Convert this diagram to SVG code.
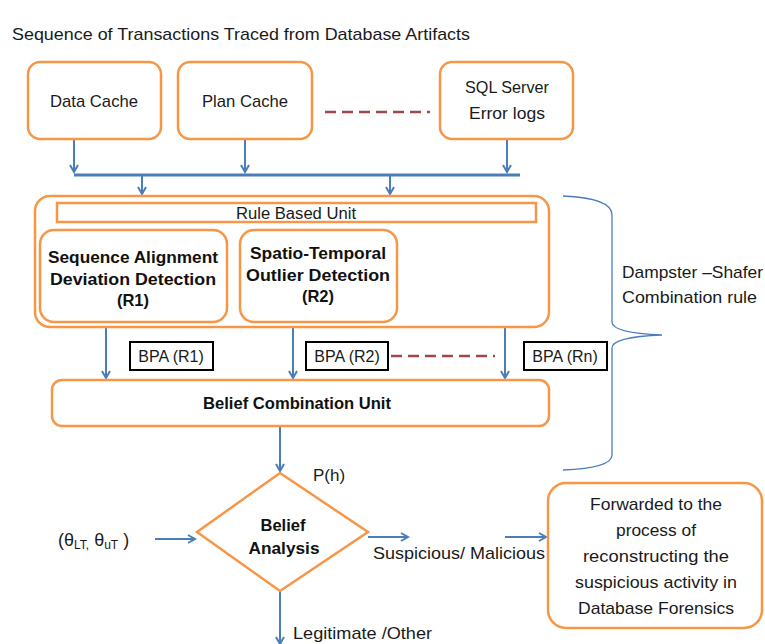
<svg xmlns="http://www.w3.org/2000/svg" width="765" height="644" viewBox="0 0 765 644">
<defs>
<marker id="ah" markerWidth="10" markerHeight="10" refX="8" refY="5" orient="auto" markerUnits="userSpaceOnUse">
<path d="M1,1 L8,5 L1,9" fill="none" stroke="#4A7EBB" stroke-width="2"/>
</marker>
<style>
.box{fill:#fff;stroke:#F79646;stroke-width:2.5}
.bpa{fill:#fff;stroke:#000;stroke-width:2}
.t{font-family:"Liberation Sans",Arial,sans-serif;font-size:16px;fill:#1a1a1a;text-anchor:middle}
.b{font-family:"Liberation Sans",Arial,sans-serif;font-size:16.5px;font-weight:bold;fill:#111;text-anchor:middle}
.c{stroke:#4A7EBB;stroke-width:2;fill:none}
.d{stroke:#A0474A;stroke-width:2.5;stroke-dasharray:11,6;fill:none}
</style>
</defs>
<rect width="765" height="644" fill="#fff"/>
<text x="12" y="40" class="t" style="text-anchor:start;font-size:17px" textLength="458" lengthAdjust="spacingAndGlyphs">Sequence  of Transactions Traced from Database Artifacts</text>

<g id="connectors">
<line class="c" x1="74" y1="139" x2="74" y2="172" marker-end="url(#ah)"/>
<line class="c" x1="245" y1="139" x2="245" y2="172" marker-end="url(#ah)"/>
<line class="c" x1="507" y1="139" x2="507" y2="172" marker-end="url(#ah)"/>
<line x1="74" y1="175" x2="520" y2="175" stroke="#4A7EBB" stroke-width="3"/>
<line class="c" x1="142" y1="175" x2="142" y2="194" marker-end="url(#ah)"/>
<line class="c" x1="390" y1="175" x2="390" y2="194" marker-end="url(#ah)"/>
<line class="c" x1="106" y1="327" x2="106" y2="378" marker-end="url(#ah)"/>
<line class="c" x1="293" y1="327" x2="293" y2="378" marker-end="url(#ah)"/>
<line class="c" x1="505" y1="327" x2="505" y2="378" marker-end="url(#ah)"/>
<line class="c" x1="280" y1="426" x2="280" y2="471" marker-end="url(#ah)"/>
<line class="c" x1="155" y1="539" x2="195" y2="539" marker-end="url(#ah)"/>
<line class="c" x1="368" y1="537" x2="408" y2="537" marker-end="url(#ah)"/>
<line class="c" x1="505" y1="537" x2="546" y2="537" marker-end="url(#ah)"/>
<line class="c" x1="280" y1="592" x2="280" y2="644" marker-end="url(#ah)"/>
<path d="M563,196 Q612,198 612,215 L612,322 Q612,333 662,335 Q612,337 612,348 L612,455 Q612,468 563,470" fill="none" stroke="#4A7EBB" stroke-width="1.3"/>
<line class="d" x1="325" y1="112" x2="430" y2="112"/>
<line class="d" x1="421" y1="288" x2="525" y2="288"/>
<line class="d" x1="391" y1="356" x2="495" y2="356"/>
</g>

<g id="data-cache">
<rect class="box" x="28" y="62" width="133" height="77" rx="12"/>
<text class="t" x="94" y="107" textLength="88" lengthAdjust="spacingAndGlyphs" style="font-size:17px">Data Cache</text>
</g>
<g id="plan-cache">
<rect class="box" x="178" y="62" width="134" height="77" rx="12"/>
<text class="t" x="245" y="107" textLength="86" lengthAdjust="spacingAndGlyphs" style="font-size:17px">Plan Cache</text>
</g>
<g id="sql-server">
<rect class="box" x="440" y="62" width="133" height="77" rx="12"/>
<text class="t" x="507" y="93" textLength="84" lengthAdjust="spacingAndGlyphs" style="font-size:17px">SQL Server</text>
<text class="t" x="507" y="119" textLength="76" lengthAdjust="spacingAndGlyphs" style="font-size:17px">Error logs</text>
</g>

<g id="rule-based-unit">
<rect class="box" x="35" y="196" width="514" height="131" rx="15"/>
<rect x="57" y="203" width="479" height="19" fill="#fff" stroke="#F79646" stroke-width="2.5"/>
<text class="t" x="296" y="219" textLength="120" lengthAdjust="spacingAndGlyphs">Rule Based Unit</text>
</g>
<g id="r1">
<rect class="box" x="40" y="230" width="187" height="92" rx="14"/>
<text class="b" x="133" y="263" textLength="170" lengthAdjust="spacingAndGlyphs">Sequence Alignment</text>
<text class="b" x="133" y="285" textLength="166" lengthAdjust="spacingAndGlyphs">Deviation Detection</text>
<text class="b" x="133" y="306">(R1)</text>
</g>
<g id="r2">
<rect class="box" x="240" y="230" width="157" height="92" rx="14"/>
<text class="b" x="318" y="259" textLength="136" lengthAdjust="spacingAndGlyphs">Spatio-Temporal</text>
<text class="b" x="318" y="281" textLength="144" lengthAdjust="spacingAndGlyphs">Outlier Detection</text>
<text class="b" x="318" y="302">(R2)</text>
</g>

<g id="bpa-r1">
<rect class="bpa" x="130" y="342" width="83" height="28"/>
<text class="t" x="171" y="362">BPA (R1)</text>
</g>
<g id="bpa-r2">
<rect class="bpa" x="306" y="342" width="82" height="28"/>
<text class="t" x="347" y="362">BPA (R2)</text>
</g>
<g id="bpa-rn">
<rect class="bpa" x="524" y="342" width="83" height="28"/>
<text class="t" x="565" y="362">BPA (Rn)</text>
</g>

<g id="belief-combination">
<rect class="box" x="52" y="380" width="497" height="46" rx="10"/>
<text class="b" x="297" y="409" textLength="188" lengthAdjust="spacingAndGlyphs">Belief Combination Unit</text>
</g>

<g id="ds-label">
<text class="t" x="622" y="278" style="text-anchor:start;font-size:17px" textLength="141" lengthAdjust="spacingAndGlyphs">Dampster –Shafer</text>
<text class="t" x="622" y="303" style="text-anchor:start;font-size:17px" textLength="135" lengthAdjust="spacingAndGlyphs">Combination rule</text>
</g>

<text class="t" x="313" y="481" style="text-anchor:start;font-size:17px">P(h)</text>

<g id="belief-analysis">
<polygon points="280,473 368,532 280,591 197,532" fill="#fff" stroke="#F79646" stroke-width="2.5"/>
<text class="b" x="283" y="531">Belief</text>
<text class="b" x="284" y="554" textLength="71" lengthAdjust="spacingAndGlyphs">Analysis</text>
</g>

<text class="t" x="58" y="546" style="text-anchor:start;font-size:18px">(θ<tspan font-size="12" dy="3">LT,</tspan><tspan dy="-3"> θ</tspan><tspan font-size="12" dy="3">uT</tspan><tspan dy="-3"> )</tspan></text>
<text class="t" x="373" y="559" style="text-anchor:start;font-size:17px" textLength="172" lengthAdjust="spacingAndGlyphs">Suspicious/ Malicious</text>

<g id="forwarded">
<rect class="box" x="548" y="483" width="214" height="145" rx="18"/>
<text class="t" x="656" y="510" style="font-size:17px" textLength="132" lengthAdjust="spacingAndGlyphs">Forwarded to the</text>
<text class="t" x="656" y="536" style="font-size:17px" textLength="80" lengthAdjust="spacingAndGlyphs">process of</text>
<text class="t" x="656" y="562" style="font-size:17px" textLength="146" lengthAdjust="spacingAndGlyphs">reconstructing the</text>
<text class="t" x="656" y="588" style="font-size:17px" textLength="162" lengthAdjust="spacingAndGlyphs">suspicious activity in</text>
<text class="t" x="656" y="614" style="font-size:17px" textLength="156" lengthAdjust="spacingAndGlyphs">Database Forensics</text>
</g>

<text class="t" x="293" y="639" style="text-anchor:start;font-size:17px" textLength="139" lengthAdjust="spacingAndGlyphs">Legitimate /Other</text>
</svg>
